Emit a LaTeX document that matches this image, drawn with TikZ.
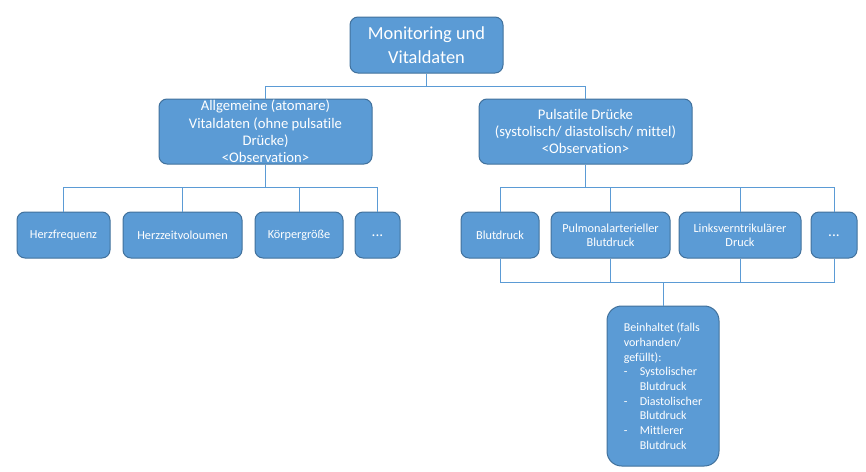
\documentclass[tikz,border=0pt]{standalone}
\usepackage{fontspec}
\setmainfont{Carlito}[Ligatures=NoCommon]
\definecolor{boxfill}{HTML}{5B9BD5}
\definecolor{boxline}{HTML}{41719C}
\definecolor{linkcol}{HTML}{5B9BD5}
\tikzset{every picture/.style={line width=0.75pt},
  box/.style={draw=boxline, fill=boxfill, text=white, rounded corners=6pt, inner sep=0pt, align=center},
  topbox/.style={box, minimum width=114.75pt, minimum height=42pt, font=\fontsize{13.8}{18}\selectfont},
  midbox/.style={box, minimum width=159.75pt, minimum height=48.75pt, font=\fontsize{11}{13}\selectfont},
  leafbox/.style={box, minimum height=34.5pt, font=\fontsize{9.2}{10.5}\selectfont},
  infobox/.style={box, align=left, rounded corners=11pt, minimum width=84pt, minimum height=120pt, font=\fontsize{9}{11}\selectfont},
  link/.style={draw=linkcol, line width=0.75pt}
}

\begin{document}
\begin{tikzpicture}[x=0.75pt,y=0.75pt,yscale=-1]
        \useasboundingbox (0,0) rectangle (866,471);

        % Top Node
        \node [topbox] (top) at (426.5,45) {Monitoring und\\Vitaldaten};
        % Second level
        \node [midbox] (allg) at (265.5,131.5) {Allgemeine (atomare)\\Vitaldaten (ohne pulsatile\\Drücke)\\{<}Observation{>}};
        \node [midbox] (puls) at (585.5,131.5) {Pulsatile Drücke\\(systolisch/ diastolisch/ mittel)\\{<}Observation{>}};
        % Leaves left
        \node [leafbox, minimum width=69.75pt] (hf) at (63.5,235) {Herzfrequenz};
        \node [leafbox, minimum width=89.25pt] (hzv) at (182.5,235) {Herzzeitvoloumen};
        \node [leafbox, minimum width=66pt] (kg) at (299,235) {Körpergröße};
        \node [leafbox, minimum width=33.75pt, font=\fontsize{11.5}{13}\selectfont] (dotsl) at (377.5,235) {\raisebox{-3pt}{...}};
        % Leaves right
        \node [leafbox, minimum width=58.5pt] (bd) at (500,235) {Blutdruck};
        \node [leafbox, minimum width=89.25pt] (pa) at (610.5,235) {Pulmonalarterieller\\Blutdruck};
        \node [leafbox, minimum width=91.5pt] (lv) at (740,235) {Linksverntrikulärer\\Druck};
        \node [leafbox, minimum width=34.5pt, font=\fontsize{11.5}{13}\selectfont] (dotsr) at (834,235) {\raisebox{-3pt}{...}};
        % Info Node
        \node [infobox] (info) at (663,386) {Beinhaltet (falls\\vorhanden/\\gefüllt):\\
          \makebox[12pt][l]{-}Systolischer\\\hspace*{12pt}Blutdruck\\
          \makebox[12pt][l]{-}Diastolischer\\\hspace*{12pt}Blutdruck\\
          \makebox[12pt][l]{-}Mittlerer\\\hspace*{12pt}Blutdruck};

        % Bus lines
        \coordinate (bus1) at (0,86);
        \coordinate (bus2) at (0,187.5);
        \coordinate (bus3) at (0,282);
        \draw [link] (top.south) -- (top.south |- bus1);
        \foreach \c in {allg,puls}
          \draw [link] (top.south |- bus1) -| (\c.north);
        \draw [link] (allg.south) -- (allg.south |- bus2);
        \foreach \c in {hf,hzv,kg,dotsl}
          \draw [link] (allg.south |- bus2) -| (\c.north);
        \draw [link] (puls.south) -- (puls.south |- bus2);
        \foreach \c in {bd,pa,lv,dotsr}
          \draw [link] (puls.south |- bus2) -| (\c.north);
        \foreach \c in {bd,pa,lv,dotsr}
          \draw [link] (\c.south) |- (info.north |- bus3);
        \draw [link] (info.north |- bus3) -- (info.north);

\end{tikzpicture}
\end{document}
